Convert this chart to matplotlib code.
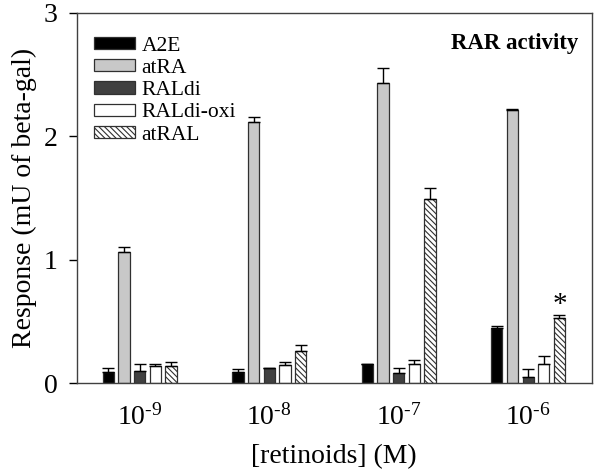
import numpy as np
import matplotlib
matplotlib.use("Agg")
import matplotlib.pyplot as plt

plt.rcParams['font.family'] = ['Liberation Serif', 'DejaVu Serif']
plt.rcParams['mathtext.fontset'] = 'custom'
plt.rcParams['mathtext.rm'] = 'Liberation Serif'
plt.rcParams['mathtext.it'] = 'Liberation Serif'
plt.rcParams['hatch.linewidth'] = 0.8

# --- dane ---
stezenia = [r'10$^{\text{-9}}$', r'10$^{\text{-8}}$',
            r'10$^{\text{-7}}$', r'10$^{\text{-6}}$']
nazwy = ["A2E", "atRA", "RALdi", "RALdi-oxi", "atRAL"]

a2e = [0.095, 0.09, 0.155, 0.445]
a2e_err = [0.03, 0.03, 0.005, 0.02]
atra = [1.06, 2.115, 2.43, 2.215]
atra_err = [0.04, 0.045, 0.12, 0.005]
raldi = [0.10, 0.122, 0.08, 0.055]
raldi_err = [0.06, 0.005, 0.045, 0.06]
raldi_oxi = [0.14, 0.145, 0.16, 0.16]
raldi_oxi_err = [0.015, 0.03, 0.03, 0.06]
atral = [0.14, 0.26, 1.49, 0.527]
atral_err = [0.03, 0.05, 0.09, 0.03]

wartosci = [a2e, atra, raldi, raldi_oxi, atral]
bledy = [a2e_err, atra_err, raldi_err, raldi_oxi_err, atral_err]
kolory = ["black", "#c8c8c8", "#404040", "white", "white"]
kreski = [None, None, None, None, "\\\\\\\\\\\\"]

# --- wykres ---
fig = plt.figure(figsize=(6, 4.75), dpi=100)
ax = fig.add_axes([0.128, 0.193, 0.858, 0.78])

x = np.arange(len(stezenia))
szer = 0.087
krok = 0.121
for k in range(len(nazwy)):
    pos = x + (k - 2) * krok
    ax.bar(pos, wartosci[k], width=szer, color=kolory[k], edgecolor="#303030",
           linewidth=0.9, hatch=kreski[k], label=nazwy[k], zorder=2)
    ax.errorbar(pos, wartosci[k], yerr=[np.zeros(len(x)), bledy[k]], fmt="none",
                ecolor="black", elinewidth=1.0, capsize=4, capthick=1.0, zorder=3)

# gwiazdka
ax.text(x[3] + 2 * krok, atral[3] + atral_err[3] - 0.03, "*", ha="center",
        va="bottom", fontsize=21)

ax.set_xlim(-0.486, 3.49)
ax.set_ylim(0, 3)
ax.set_yticks([0, 1, 2, 3])
ax.set_xticks(x)
ax.set_xticklabels(stezenia)
ax.tick_params(axis="y", direction="out", length=6, width=1, pad=8, labelsize=20)
ax.tick_params(axis="x", length=0, pad=15, labelsize=20)
ax.set_xlabel("[retinoids] (M)", fontsize=20, labelpad=10)
ax.set_ylabel("Response (mU of beta-gal)", fontsize=20, labelpad=5)
for s in ax.spines.values():
    s.set_color("#404040")
    s.set_linewidth(1.0)

ax.text(0.975, 0.918, "RAR activity", transform=ax.transAxes, ha="right",
        va="center", fontsize=16.5, fontweight="bold")

leg = ax.legend(loc="upper left", bbox_to_anchor=(0.0, 0.982), frameon=False,
                fontsize=15.5, handlelength=1.9, handleheight=0.5,
                labelspacing=0.15, handletextpad=0.3, borderaxespad=0.4)

fig.savefig("out.png", dpi=100)
